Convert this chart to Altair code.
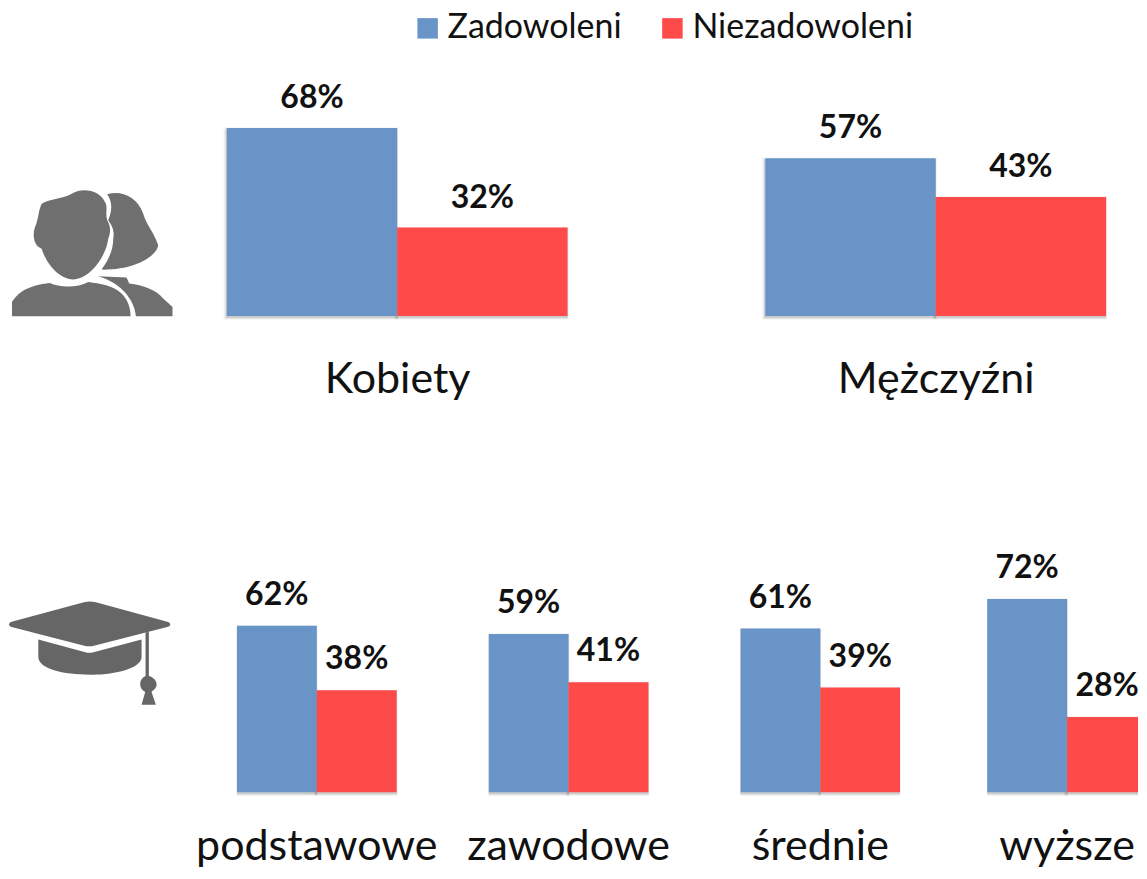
import re
import altair as alt
import pandas as pd

SERIES = ["Zadowoleni", "Niezadowoleni"]
COLORS = ["#6994C8", "#FF4A4A"]
TOP_GROUPS = ["Kobiety", "Mężczyźni"]
TOP_YES = [68, 57]
TOP_NO = [32, 43]
EDU_GROUPS = ["podstawowe", "zawodowe", "średnie", "wyższe"]
EDU_YES = [62, 59, 61, 72]
EDU_NO = [38, 41, 39, 28]
FONT = "Lato"


def norm(path, ox, oy, cx, cy, half=67.5):
    nums = iter(range(10 ** 6))
    def rep(m):
        i = next(nums)
        v = float(m.group(0))
        return f"{(v / 3 + ox - cx) / half:.4f}" if i % 2 == 0 else f"{(v / 3 + oy - cy) / half:.4f}"
    return re.sub(r"-?\d+\.?\d*", rep, path)


PERSON = ("M125 100C150 85 190 85 215 70C250 50 300 60 315 95C325 110 315 130 322 150C330 165 335 180 325 205"
          "C318 260 270 325 220 328C170 325 135 270 125 235C105 230 95 200 105 170C115 150 115 120 125 100Z"
          "M36 438L36 395C55 365 85 345 150 338C175 350 230 355 265 335C300 340 340 345 365 370C385 390 392 415 392 438Z"
          "M322 72C360 60 410 75 430 130C440 165 465 190 475 225C470 260 400 300 305 298C325 270 340 240 340 205"
          "C345 180 335 165 325 150C335 125 340 100 322 72Z"
          "M295 318L380 322L388 340C430 345 470 360 490 385L518 410L518 438L408 438C405 395 370 340 295 318Z")
CAP = ("M32 120L255 60Q270 56 285 60L505 120Q518 127 505 134L285 190Q268 195 250 190L32 134Q22 127 32 120Z"
       "M115 172L262 212L275 212L425 172L425 228C420 260 340 280 270 278C190 278 115 260 115 225Z"
       "M437 152L447 149L447 282C462 285 472 300 470 310C468 322 458 326 455 330L468 368L425 368L436 330"
       "C425 325 420 315 421 303C422 292 430 285 437 282Z")

LEGEND = alt.Legend(title=None, orient="none", legendX=401, legendY=-28,
                    direction="horizontal", symbolType="square", symbolSize=420,
                    symbolStrokeWidth=0, labelFont=FONT, labelFontSize=34,
                    labelColor="#111", labelLimit=300, columnPadding=33,
                    labelOffset=3, symbolOpacity=1)


def layers(df, x, y, dy, clip):
    base = alt.Chart(df).encode(x=x, y=y)
    s1 = base.mark_bar(color="#000", opacity=0.06, stroke="#000", strokeWidth=4, xOffset=-1, yOffset=1.5, clip=clip)
    s2 = base.mark_bar(color="#000", opacity=0.14, stroke="#000", strokeWidth=1.5, xOffset=-0.5, yOffset=1.5, clip=clip)
    bars = base.mark_bar(clip=clip).encode(
        color=alt.Color("s:N", sort=SERIES, scale=alt.Scale(domain=SERIES, range=COLORS), legend=LEGEND))
    txt = base.mark_text(font=FONT, fontSize=32, fontWeight="bold", color="#111", dy=dy,
                         baseline="alphabetic").encode(text="t:N")
    return s1 + s2 + bars + txt


def top_panel(group, yes, no, w, h):
    df = pd.DataFrame({"s": SERIES, "v": [yes, no], "t": [f"{yes}%", f"{no}%"]})
    x = alt.X("s:N", sort=SERIES, scale=alt.Scale(domain=SERIES, paddingInner=0, paddingOuter=0),
              axis=alt.Axis(labels=False, ticks=False, domain=False, grid=False, title=group,
                            titleFont=FONT, titleFontSize=43, titleFontWeight="normal", titleColor="#111",
                            titlePadding=42, titleLimit=400))
    y = alt.Y("v:Q", scale=alt.Scale(domain=[0, 100]), axis=None)
    return layers(df, x, y, -20, False).properties(width=w, height=h)


def edu_panel(group, yes, no, w, band_total, h):
    df = pd.DataFrame({"s": SERIES, "v": [yes, no], "t": [f"{yes}%", f"{no}%"]})
    scale = alt.Scale(domain=SERIES, range=[0, band_total], paddingInner=0, paddingOuter=0)
    x = alt.X("s:N", sort=SERIES, scale=scale, axis=None)
    y = alt.Y("v:Q", scale=alt.Scale(domain=[-26.9, 100]), axis=None)
    label = alt.Chart(pd.DataFrame({"s": [SERIES[0]], "g": [group]})).mark_text(
        font=FONT, fontSize=43, color="#111", baseline="alphabetic"
    ).encode(x=alt.X("s:N", sort=SERIES, scale=scale, axis=None, bandPosition=1),
             y=alt.datum(-25.2), text="g:N")
    return (layers(df, x, y, -21, True) + label).properties(width=w, height=h)


def icon(path, level, w, h, color, dom):
    df = pd.DataFrame({"i": ["icon"], "l": [level]})
    return alt.Chart(df).mark_point(shape=path, filled=True, opacity=1, size=135 ** 2, color=color).encode(
        x=alt.X("i:N", axis=None),
        y=alt.Y("l:Q", scale=alt.Scale(domain=dom), axis=None),
    ).properties(width=w, height=h)


def filler(w, h):
    df = pd.DataFrame({"a": [""]})
    return alt.Chart(df).mark_text().encode(text="a:N").properties(width=w, height=h)


H1, H2 = 277, 349
top = alt.hconcat(
    icon(norm(PERSON, 0, 170, 77.5, 253), 22.7, 135, H1, "#6F6F6F", [0, 100]),
    top_panel(TOP_GROUPS[0], TOP_YES[0], TOP_NO[0], 341, H1),
    filler(34, H1),
    top_panel(TOP_GROUPS[1], TOP_YES[1], TOP_NO[1], 341, H1),
    spacing=82, bounds="flush")
widths = [165, 165, 160, 151]
bottom = alt.hconcat(
    icon(norm(CAP, 0, 580, 80, 651), 53, 140, H2, "#666666", [-26.9, 100]),
    *[edu_panel(g, a, b, w, 160, H2) for g, a, b, w in zip(EDU_GROUPS, EDU_YES, EDU_NO, widths)],
    spacing=87, bounds="flush")

chart = alt.vconcat(top, bottom, spacing=485, bounds="flush").resolve_scale(
    x="independent", y="independent", color="shared"
).configure_view(stroke=None).properties(padding={"left": 1, "top": 3, "right": 0, "bottom": 0}, background="white")

chart.save("out.html", embed_options={"renderer": "svg", "actions": False})
